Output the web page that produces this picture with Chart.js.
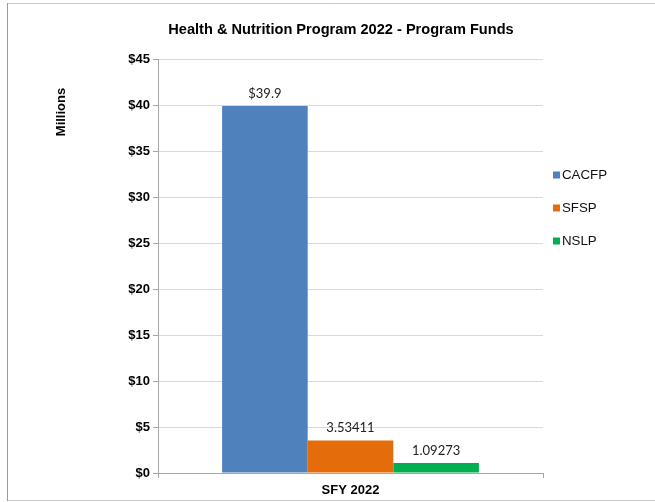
<!DOCTYPE html>
<html>
<head>
<meta charset="utf-8">
<script src="https://cdn.jsdelivr.net/npm/chart.js@4"></script>
<style>
  html, body { margin: 0; padding: 0; background: #fff; }
  #wrap { position: relative; width: 655px; height: 502px; }
</style>
</head>
<body>
<div id="wrap"><canvas id="chartFunds" width="655" height="502"></canvas></div>
<script>
// data (millions of dollars)
const categories = ["SFY 2022"];
const seriesNames = ["CACFP", "SFSP", "NSLP"];
const seriesValues = [[39.9], [3.53411], [1.09273]];
const valueLabels = ["$39.9", "3.53411", "1.09273"];
const seriesColors = ["#4F81BD", "#E46C0A", "#00B050"];
const yTicks = [0, 5, 10, 15, 20, 25, 30, 35, 40, 45];

// custom drawing: frame, title, axis caption, value labels, legend
const extrasPlugin = {
    id: "extras",
    beforeDraw(chart) {
        const c = chart.ctx;
        c.save();
        c.fillStyle = "#fff";
        c.fillRect(0, 0, chart.width, chart.height);
        c.strokeStyle = "#c8c8c8";
        c.lineWidth = 1;
        c.beginPath();
        c.moveTo(7.5, 3.5);
        c.lineTo(655, 3.5);
        c.stroke();
        c.beginPath();
        c.moveTo(7.5, 500.5);
        c.lineTo(655, 500.5);
        c.stroke();
        c.strokeStyle = "#9a9a9a";
        c.beginPath();
        c.moveTo(7.5, 3);
        c.lineTo(7.5, 501);
        c.stroke();
        c.restore();
    },
    afterDraw(chart) {
        const c = chart.ctx;
        c.save();
        // title
        c.fillStyle = "#000";
        c.font = "bold 14.6px 'Liberation Sans', Arial, sans-serif";
        c.textAlign = "center";
        c.textBaseline = "middle";
        c.fillText("Health & Nutrition Program 2022 - Program Funds", 341, 30);
        // y caption
        c.save();
        c.translate(61, 112);
        c.rotate(-Math.PI / 2);
        c.font = "bold 13px 'Liberation Sans', Arial, sans-serif";
        c.fillText("Millions", 0, 0);
        c.restore();
        // value labels above bars
        c.font = "13px Lato, 'Open Sans', sans-serif";
        c.fillStyle = "#222";
        c.textBaseline = "bottom";
        chart.data.datasets.forEach((ds, i) => {
            const bar = chart.getDatasetMeta(i).data[0];
            c.fillText(valueLabels[i], bar.x, bar.y - 6);
        });
        // legend
        c.textAlign = "left";
        c.textBaseline = "middle";
        c.font = "13.3px 'Liberation Sans', Arial, sans-serif";
        chart.data.datasets.forEach((ds, i) => {
            const y = 175 + i * 33;
            c.fillStyle = ds.backgroundColor;
            c.fillRect(553, y - 3.5, 7, 7);
            c.fillStyle = "#111";
            c.fillText(ds.label, 562, y);
        });
        c.restore();
    }
};

const ctx = document.getElementById("chartFunds").getContext("2d");
new Chart(ctx, {
    type: "bar",
    data: {
        labels: categories,
        datasets: seriesNames.map((name, i) => ({
            label: name,
            data: seriesValues[i],
            backgroundColor: seriesColors[i],
            borderWidth: 0,
            categoryPercentage: 0.667,
            barPercentage: 1.0,
        })),
    },
    options: {
        responsive: false,
        animation: false,
        devicePixelRatio: 1,
        layout: { padding: { left: 0, top: 59, right: 112, bottom: 0 } },
        plugins: {
            legend: { display: false },
            title: { display: false },
            tooltip: { enabled: false },
        },
        scales: {
            x: {
                afterFit: (s) => { s.height = 29; },
                grid: {
                    drawOnChartArea: false,
                    drawTicks: true,
                    tickLength: 5,
                    tickColor: "#a6a6a6",
                },
                border: { color: "#a6a6a6" },
                ticks: {
                    color: "#000",
                    padding: 5,
                    font: { family: "'Liberation Sans', Arial, sans-serif", size: 13, weight: "bold" },
                },
            },
            y: {
                min: 0,
                max: 45,
                afterFit: (s) => { s.width = 158; },
                afterBuildTicks: (s) => { s.ticks = yTicks.map((v) => ({ value: v })); },
                grid: {
                    color: "#d9d9d9",
                    tickLength: 5,
                    tickColor: "#a6a6a6",
                },
                border: { color: "#a6a6a6" },
                ticks: {
                    color: "#000",
                    padding: 3,
                    font: { family: "'Liberation Sans', Arial, sans-serif", size: 13, weight: "bold" },
                    callback: (v) => "$" + v,
                },
            },
        },
    },
    plugins: [extrasPlugin],
});
</script>
</body>
</html>
